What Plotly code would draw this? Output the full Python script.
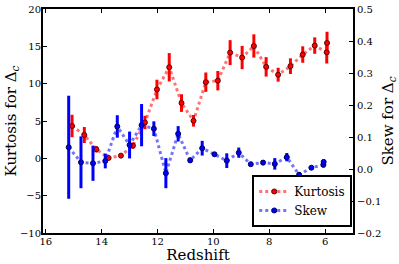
import plotly.graph_objects as go

kurt_z = [15.06, 14.62, 14.19, 13.75, 13.31, 12.88, 12.45, 12.02, 11.58, 11.14, 10.71,
          10.27, 9.84, 9.40, 8.97, 8.55, 8.11, 7.68, 7.24, 6.80, 6.37, 5.94, 5.93]
kurt_val = [4.33, 3.12, 1.21, 0.05, 0.36, 1.7, 4.8, 9.22, 12.2, 7.4, 5.03,
            10.2, 10.4, 14.16, 13.5, 15.05, 12.25, 11.2, 12.34, 13.9, 15.1, 14.2, 15.45]
kurt_err = [1.5, 1.07, 0.42, 0.2, 0.2, 0.4, 0.9, 1.31, 1.9, 1.18, 0.78,
            1.3, 1.3, 1.67, 1.56, 1.56, 1.3, 0.93, 1.05, 1.1, 1.1, 1.5, 1.5]

skew_z = [15.18, 14.74, 14.31, 13.87, 13.44, 13.0, 12.57, 12.13, 11.70, 11.26, 10.83,
          10.40, 9.96, 9.52, 9.09, 8.66, 8.22, 7.80, 7.37, 6.93, 6.49, 6.06, 6.05]
skew_val = [0.068, 0.021, 0.018, 0.025, 0.133, 0.075, 0.137, 0.126, -0.013, 0.110, 0.027,
            0.065, 0.046, 0.026, 0.051, 0.015, 0.020, 0.016, 0.037, -0.018, 0.004, 0.013, 0.022]
skew_err = [0.161, 0.081, 0.055, 0.023, 0.035, 0.042, 0.066, 0.023, 0.047, 0.024, 0.008,
            0.023, 0.005, 0.023, 0.016, 0.005, 0.008, 0.018, 0.013, 0.008, 0.005, 0.008, 0.008]

x_ticks = [16, 14, 12, 10, 8, 6]
y_ticks = [-10, -5, 0, 5, 10, 15, 20]
y2_ticks = [-0.2, -0.1, 0.0, 0.1, 0.2, 0.3, 0.4, 0.5]

FONT = "DejaVu Serif"

fig = go.Figure()
fig.add_trace(go.Scatter(
    x=kurt_z, y=kurt_val, name="Kurtosis", mode="lines+markers",
    line=dict(color="rgba(255,0,0,0.55)", width=3, dash="dot"),
    marker=dict(color="red", size=5, line=dict(color="#600000", width=1)),
    error_y=dict(type="data", array=kurt_err, color="red", thickness=3, width=0),
    yaxis="y"))
fig.add_trace(go.Scatter(
    x=skew_z, y=skew_val, name="Skew", mode="lines+markers",
    line=dict(color="rgba(0,0,255,0.55)", width=3, dash="dot"),
    marker=dict(color="blue", size=5, line=dict(color="#000060", width=1)),
    error_y=dict(type="data", array=skew_err, color="blue", thickness=3, width=0),
    yaxis="y2"))

axis_common = dict(showgrid=False, zeroline=False, showline=True, linecolor="black",
                   linewidth=2, ticks="inside", ticklen=4, tickwidth=1.2, tickcolor="black",
                   automargin=False,
                   tickfont=dict(family=FONT, size=10, color="black"))

fig.update_layout(
    width=399, height=264,
    margin=dict(l=43, r=46, t=9, b=31),
    paper_bgcolor="white", plot_bgcolor="white",
    font=dict(family=FONT, color="black"),
    xaxis=dict(range=[16.1, 5.0], tickvals=x_ticks, mirror="ticks",
               title=dict(text="Redshift", font=dict(family=FONT, size=15), standoff=0),
               ticklabelstandoff=-2,
               **axis_common),
    yaxis=dict(range=[-10, 20], tickvals=y_ticks,
               title=dict(text="Kurtosis for Δ<sub><i>c</i></sub>", font=dict(family=FONT, size=15), standoff=0),
               ticklabelstandoff=-2,
               **axis_common),
    yaxis2=dict(range=[-0.2, 0.5], tickvals=y2_ticks, overlaying="y", side="right",
                tickformat=".1f",
                title=dict(text="Skew for Δ<sub><i>c</i></sub>", font=dict(family=FONT, size=15), standoff=2),
                **axis_common),
    legend=dict(x=0.675, y=0.027, xanchor="left", yanchor="bottom",
                bordercolor="black", borderwidth=2, bgcolor="white",
                font=dict(family=FONT, size=12), tracegroupgap=0),
    showlegend=True,
)

fig.write_html("out.html", config={"displayModeBar": False},
               post_script="document.body.style.margin='0';document.body.style.overflow='hidden';")
